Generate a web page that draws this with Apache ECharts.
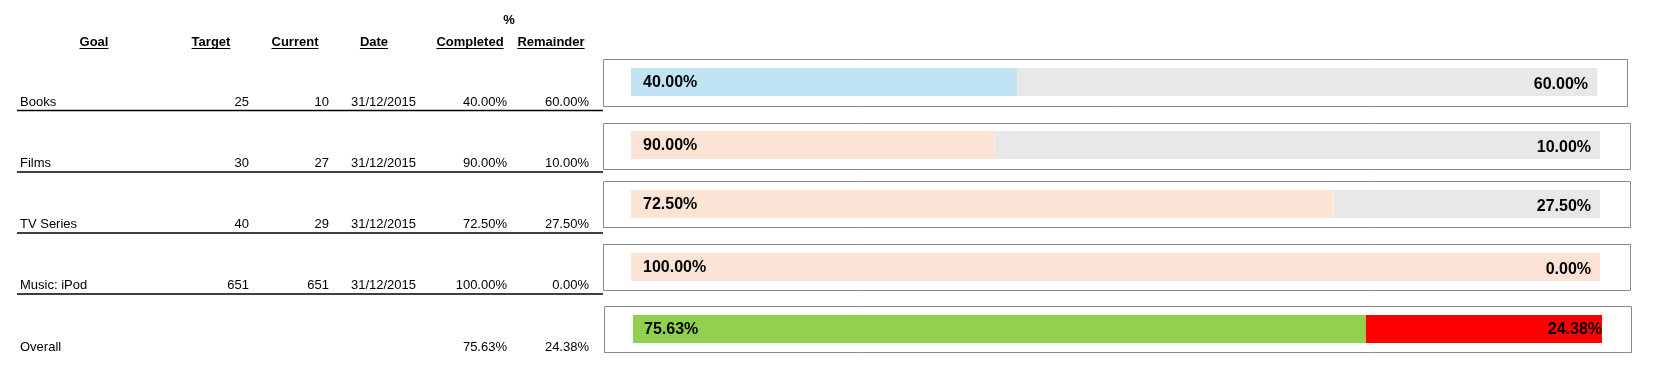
<!DOCTYPE html>
<html><head><meta charset="utf-8">
<script src="https://cdn.jsdelivr.net/npm/echarts@6/dist/echarts.min.js"></script>
<style>html,body{margin:0;padding:0;background:#fff}#c{width:1663px;height:388px}</style>
</head><body><div id="c"></div>
<script>
// ---- data ----
const goals = ['Books', 'Films', 'TV Series', 'Music: iPod', 'Overall'];
const targets = [25, 30, 40, 651, null];
const currents = [10, 27, 29, 651, null];
const dates = ['31/12/2015', '31/12/2015', '31/12/2015', '31/12/2015', ''];
const completedPct = [40.00, 90.00, 72.50, 100.00, 75.63];
const remainderPct = [60.00, 10.00, 27.50, 0.00, 24.38];
// gauge bar lengths as drawn in the picture (the Films gauge is drawn shorter than its label)
const completedBar = [40, 37.5, 72.5, 100, 75.63];
const remainderBar = [60, 62.5, 27.5, 0, 24.37];
const headers = ['Goal', 'Target', 'Current', 'Date', 'Completed', 'Remainder'];

// ---- layout / style ----
const FONT = '"Liberation Sans", Arial, sans-serif';
const headerX = [94, 211, 295, 374, 470, 551];
const headerY = 42;
const rowY = [102, 163, 224, 285, 347];
const lineY = [110.5, 172, 233, 294];
const colRight = {target: 249, current: 329, date: 416, completed: 507, remainder: 589};
const frames = [
  [603.5, 59.5, 1024, 47], [603.5, 123.5, 1027, 46], [603.5, 181.5, 1027, 46],
  [603.5, 244.5, 1027, 46], [604.5, 306.5, 1027, 46]
];
const bars = [
  [631, 68, 966, 28], [631, 131, 969, 28], [631, 190, 969, 28],
  [631, 253, 969, 28], [633, 315, 969, 28]
];
const doneColors = ['#C1E4F5', '#FBE3D6', '#FBE3D6', '#FBE3D6', '#92D050'];
const restColors = ['#E8E8E8', '#E8E8E8', '#E8E8E8', '#E8E8E8', '#FF0000'];

const measure = document.createElement('canvas').getContext('2d');
function tw(t, f) { measure.font = f; return measure.measureText(t).width; }

const graphic = [];
function txt(t, x, y, align, bold) {
  graphic.push({type: 'text', x: x, y: y, silent: true,
    style: {text: t, font: (bold ? 'bold ' : '') + '13px ' + FONT, fill: '#000', align: align, verticalAlign: 'middle'}});
}
// headers
txt('%', 509, 20, 'center', true);
headers.forEach((h, i) => {
  txt(h, headerX[i], headerY, 'center', true);
  const w = tw(h, 'bold 13px ' + FONT);
  graphic.push({type: 'line', silent: true,
    shape: {x1: headerX[i] - w / 2, y1: 48.5, x2: headerX[i] + w / 2, y2: 48.5},
    style: {stroke: '#000', lineWidth: 1}});
});
// rows
goals.forEach((g, i) => {
  const y = rowY[i];
  txt(g, 20, y, 'left', false);
  if (targets[i] != null) txt(String(targets[i]), colRight.target, y, 'right', false);
  if (currents[i] != null) txt(String(currents[i]), colRight.current, y, 'right', false);
  if (dates[i]) txt(dates[i], colRight.date, y, 'right', false);
  txt(completedPct[i].toFixed(2) + '%', colRight.completed, y, 'right', false);
  txt(remainderPct[i].toFixed(2) + '%', colRight.remainder, y, 'right', false);
});
lineY.forEach(y => graphic.push({type: 'line', silent: true,
  shape: {x1: 17, y1: y, x2: 603, y2: y}, style: {stroke: '#000', lineWidth: 1.5}}));
// gauge frames
frames.forEach(f => graphic.push({type: 'rect', silent: true, z: 0,
  shape: {x: f[0], y: f[1], width: f[2], height: f[3]},
  style: {fill: 'none', stroke: '#8A8A8A', lineWidth: 1}}));

const grid = [], xAxis = [], yAxis = [], series = [];
goals.forEach((g, i) => {
  const b = bars[i];
  grid.push({left: b[0], top: b[1], width: b[2], height: b[3], containLabel: false});
  xAxis.push({type: 'value', gridIndex: i, min: 0, max: 100, show: false});
  yAxis.push({type: 'category', gridIndex: i, data: [g], show: false});
  const isLast = i === goals.length - 1;
  series.push({
    type: 'bar', xAxisIndex: i, yAxisIndex: i, stack: 's' + i, barWidth: '100%',
    data: [completedBar[i]], itemStyle: {color: doneColors[i]}, silent: true,
    label: {show: true, position: 'insideLeft', distance: isLast ? 11 : 12, offset: [0, 1],
      formatter: () => completedPct[i].toFixed(2) + '%',
      fontFamily: FONT, fontWeight: 'bold', fontSize: 16, color: '#000'}
  });
  series.push({
    type: 'bar', xAxisIndex: i, yAxisIndex: i, stack: 's' + i, barWidth: '100%',
    data: [remainderBar[i]], itemStyle: {color: restColors[i]}, silent: true,
    label: {show: true, position: 'insideRight', distance: isLast ? 0 : 9, offset: [0, isLast ? 1 : 3],
      formatter: () => remainderPct[i].toFixed(2) + '%',
      fontFamily: FONT, fontWeight: 'bold', fontSize: 16, color: '#000'}
  });
});

const chart = echarts.init(document.getElementById('c'), null, {renderer: 'canvas'});
chart.setOption({animation: false, grid, xAxis, yAxis, series, graphic});
</script></body></html>
